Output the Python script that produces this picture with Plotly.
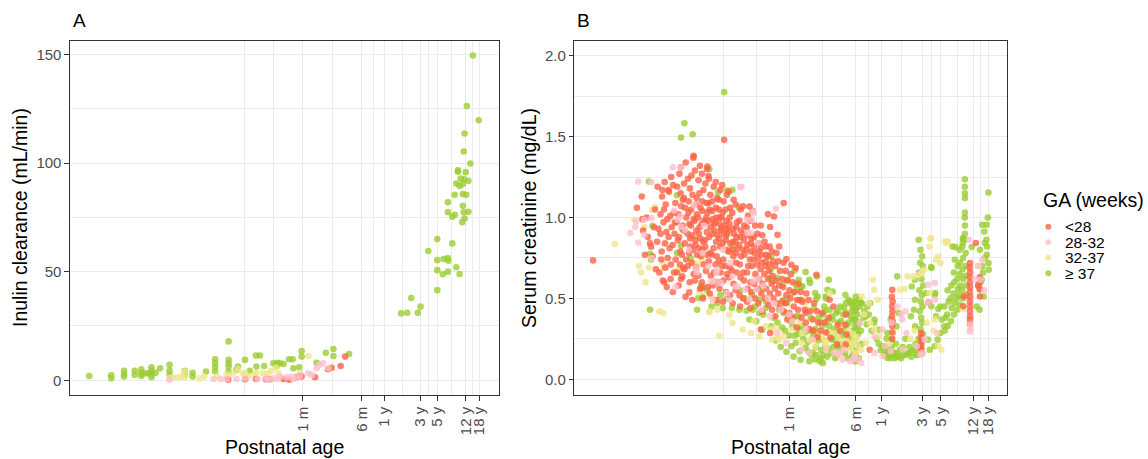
import plotly.graph_objects as go

# ---------------- data (age in days, value) ----------------
# Panel A: inulin clearance (mL/min)
a_lt28 = [(3.1,0.2),(5.2,0.5),(7.25,0.6),(9.8,0.5),(11.1,0.5),(16.8,0.6),(20,0.3),(25.1,1.4),(27.8,2.0),
          (29.2,1.7),(43.9,1.4),(65,5.1),(73,5.8),(96,6.6),(110,10.9)]
a_28_32 = [(0.52,0.2),(2.0,0.6),(2.5,0.6),(3.0,0.6),(4.0,0.6),(5.2,0.9),(7.6,0.6),(9.8,0.9),(10.5,0.3),
           (12.3,0.9),(14,0.6),(15.1,1.7),(18.5,1.4),(21.6,1.7),(22.7,0.5),(25,1.0),(27.8,2.0),(35.8,3.2),
           (39.7,2.5),(46,5.5),(50,7.0),(56,7.8),(66,5.5)]
a_32_37 = [(0.52,0.9),(0.575,1.2),(0.67,1.4),(0.76,1.7),(0.83,4.0),(0.83,1.4),(1.3,0.9),(1.5,1.7),(2.2,1.7),
           (2.96,2.5),(3.2,1.7),(3.6,3.2),(4.2,5.1),(4.87,3.2),(5.2,3.2),(5.8,1.7),(7.0,2.9),(7.3,3.5),(9.0,3.2),
           (10.5,3.2),(11.5,4.4),(13.4,5.8),(14.3,3.2),(27.8,3.2),(35.8,11.2)]
a_ge37 = [(0.045,2.0),(0.088,2.3),(0.088,0.9),(0.13,4.4),(0.13,2.9),(0.13,1.7),(0.18,4.4),(0.18,2.5),
          (0.22,5.1),(0.22,3.5),(0.22,2.0),(0.23,2.9),(0.26,3.2),(0.28,3.2),(0.30,6.0),(0.30,4.4),(0.30,2.9),
          (0.30,1.4),(0.34,3.5),(0.39,5.5),(0.52,7.1),(0.52,4.4),(0.52,2.5),(0.83,4.4),(0.83,2.5),(1.05,3.5),
          (1.05,1.7),(1.58,4.0),(2.09,9.7),(2.09,7.8),(2.09,6.0),(2.09,4.0),(3.15,17.9),(3.15,9.4),(3.15,7.8),
          (3.15,6.3),(3.15,4.0),(4.0,4.8),(4.2,6.3),(5.2,9.4),(6.0,4.4),(7.25,11.4),(8.2,11.4),(7.35,6.3),
          (9.3,6.6),(12.3,7.8),(13.6,6.6),(14,8.1),(15.1,7.8),(16.8,7.5),(19.9,9.7),(22.2,9.7),(22.7,5.5),
          (27.1,6.0),(29.2,13.5),(29.2,10.9),(46,8.1),(61,12.7),(77,14.4),(77,11.2),(124,12.1),
          (5406,149.5),(4493,126.2),(6465,119.7),(4200,113.6),(4091,105.3),(5004,99.8),(3426,96.7),
          (4346,95.8),(3426,96.0),(3726,92.9),(4127,92.5),(4712,91.8),(3262,90.6),(3609,89.4),(3981,90.3),
          (3097,85.4),(3981,85.7),(4420,85.4),(2524,81.9),(3981,80.3),(2524,77.4),(3123,76.2),(2885,75.3),
          (4712,77.6),(4091,77.4),(4200,74.5),(3908,72.8),(1826,65.0),(2885,63.0),(1388,59.5),(1826,55.3),
          (2213,55.8),(2524,56.3),(2553,55.0),(1826,50.7),(2166,48.8),(2524,50.0),(3262,52.0),(3609,48.9),
          (1826,41.5),(825,37.9),(606,30.8),(730,31.1),(1008,31.1),(1096,33.9)]

# Panel B: serum creatinine (mg/dL)
b_lt28 = [(0.15,0.735),(0.49,1.06),(0.56,1.13),(0.61,0.77),(0.70,0.84),(0.57,0.99),(0.58,0.92),(0.78,0.94),
          (0.93,0.90),(0.98,1.17),(0.72,0.82),(0.75,0.76),(1.03,0.60),(1.68,0.636),(2.02,0.537),(2.86,0.564),
          (2.28,1.381),(3.3,1.315),(3.4,1.257),(5.2,1.48),(0.64,1.0),(0.66,0.88),(0.80,1.05),(0.82,0.68),
          (0.86,1.19),(0.93,1.02),(0.88,0.93),(0.95,0.74),(0.90,0.66),(0.85,0.85),
          (1.04,1.22),(0.97,1.13),(1.01,0.97),(0.96,0.79),(1.05,0.84),(0.99,0.61),(1.02,1.05),
          (1.07,1.08),(1.15,1.17),(1.09,0.91),(1.13,0.75),(1.06,0.69),(1.12,0.99),(1.1,0.57),
          (1.24,1.25),(1.17,1.16),(1.21,1.01),(1.26,0.94),(1.19,0.81),(1.23,0.71),(1.16,0.88),(1.22,0.62),
          (1.31,1.2),(1.39,1.09),(1.33,1.03),(1.36,0.9),(1.29,0.83),(1.4,0.74),(1.34,0.66),(1.37,0.97),(1.3,0.54),
          (1.55,1.27),(1.46,1.19),(1.51,1.02),(1.44,0.97),(1.53,0.88),(1.49,0.86),(1.57,0.71),(1.45,0.66),(1.52,0.58),
          (1.61,1.31),(1.7,1.11),(1.63,1.07),(1.68,0.93),(1.59,0.79),(1.66,0.77),(1.72,0.69),(1.62,0.62),
          (1.69,0.95),(1.6,1.15),
          (1.84,1.34),(1.76,1.21),(1.81,1.06),(1.87,1.0),(1.74,0.92),(1.79,0.84),(1.86,0.74),(1.77,0.68),
          (1.83,0.51),(1.75,1.12),
          (1.96,1.24),(2.06,1.18),(1.99,1.1),(2.03,0.96),(1.93,0.9),(2.08,0.82),(2.01,0.78),(1.95,0.7),
          (2.05,0.6),(1.98,1.03),(2.07,0.87),
          (2.26,1.37),(2.15,1.26),(2.21,1.14),(2.13,1.05),(2.28,0.99),(2.18,0.89),(2.24,0.8),(2.16,0.72),
          (2.29,0.65),(2.2,0.49),(2.12,0.95),
          (2.36,1.29),(2.47,1.12),(2.41,1.08),(2.34,0.98),(2.45,0.92),(2.38,0.86),(2.5,0.77),(2.43,0.69),
          (2.35,0.61),(2.48,1.02),(2.4,0.83),
          (2.7,1.32),(2.6,1.23),(2.66,1.15),(2.74,1.06),(2.57,1.0),(2.68,0.94),(2.63,0.81),(2.76,0.76),
          (2.59,0.64),(2.71,0.56),(2.62,0.9),(2.73,0.87),
          (2.85,1.27),(2.97,1.17),(2.88,1.04),(3.0,0.98),(2.83,0.96),(2.94,0.85),(2.9,0.8),(2.98,0.71),
          (2.84,0.6),(2.92,0.5),(2.87,1.1),
          (3.27,1.3),(3.13,1.21),(3.22,1.09),(3.31,1.03),(3.15,0.97),(3.25,0.91),(3.1,0.86),(3.29,0.77),
          (3.18,0.67),(3.33,0.57),(3.21,1.0),(3.12,0.82),
          (3.45,1.24),(3.58,1.14),(3.5,1.05),(3.41,0.98),(3.6,0.94),(3.47,0.88),(3.55,0.78),(3.43,0.73),
          (3.62,0.64),(3.52,0.53),(3.4,1.09),
          (3.92,1.19),(3.78,1.1),(3.86,0.99),(3.96,0.96),(3.8,0.9),(3.9,0.81),(3.75,0.77),(3.94,0.66),
          (3.83,0.58),(3.98,0.92),(3.77,1.04),
          (4.14,1.22),(4.3,1.12),(4.21,1.0),(4.1,0.97),(4.33,0.89),(4.18,0.85),(4.27,0.76),(4.12,0.71),
          (4.36,0.6),(4.24,0.49),(4.15,1.06),
          (4.68,1.17),(4.52,1.05),(4.6,1.0),(4.72,0.92),(4.55,0.87),(4.66,0.82),(4.5,0.73),(4.7,0.66),
          (4.58,0.56),(4.63,0.96),(4.49,1.11),
          (4.92,1.2),(5.12,1.1),(5.0,1.03),(4.88,0.94),(5.15,0.9),(4.97,0.84),(5.08,0.74),(4.9,0.7),
          (5.1,0.61),(5.03,0.48),(4.86,1.0),
          (5.6,1.14),(5.4,1.05),(5.52,0.98),(5.65,0.9),(5.42,0.86),(5.57,0.8),(5.38,0.7),(5.62,0.65),
          (5.47,0.54),(5.55,0.93),(5.36,0.95),
          (5.91,1.16),(6.12,1.06),(6.0,0.96),(5.87,0.92),(6.15,0.84),(5.97,0.79),(6.08,0.69),(5.9,0.63),
          (6.1,0.52),(6.04,1.0),
          (6.72,1.11),(6.48,1.03),(6.62,0.93),(6.76,0.9),(6.5,0.8),(6.66,0.76),(6.45,0.67),(6.7,0.59),
          (6.56,0.47),(6.6,0.85),
          (7.1,1.08),(7.35,0.97),(7.22,0.94),(7.05,0.85),(7.4,0.81),(7.18,0.72),(7.3,0.66),(7.08,0.55),
          (7.26,0.88),(7.15,0.78),
          (8.15,1.05),(7.85,0.98),(8.05,0.88),(7.8,0.83),(8.2,0.76),(7.95,0.71),(8.1,0.63),(7.88,0.52),
          (8.0,0.45),(8.12,0.92),
          (8.65,1.07),(8.95,0.95),(8.8,0.9),(8.6,0.8),(9.0,0.77),(8.72,0.66),(8.9,0.61),(8.68,0.5),(8.85,0.86),
          (9.9,1.01),(9.55,0.94),(9.75,0.83),(9.5,0.8),(9.95,0.7),(9.62,0.66),(9.85,0.56),(9.68,0.48),(9.8,0.89),
          (10.5,0.98),(10.9,0.87),(10.7,0.84),(10.45,0.74),(11.0,0.7),(10.6,0.6),(10.85,0.54),(10.55,0.44),
          (10.75,0.79),
          (12.0,0.95),(11.6,0.88),(11.85,0.78),(11.55,0.74),(12.1,0.65),(11.7,0.59),(11.95,0.5),(11.65,0.82),
          (12.75,0.9),(13.25,0.84),(13.0,0.75),(12.7,0.71),(13.35,0.62),(12.85,0.56),(13.1,0.47),(13.2,0.79),
          (14.6,0.89),(14.05,0.81),(14.35,0.72),(14.0,0.68),(14.7,0.59),(14.2,0.53),(14.5,0.42),(14.25,0.77),
          (15.5,0.85),(16.1,0.77),(15.85,0.7),(15.45,0.65),(16.2,0.56),(15.65,0.5),(15.95,0.73),
          (17.8,0.82),(17.1,0.76),(17.45,0.67),(17.0,0.62),(17.9,0.53),(17.25,0.46),(17.6,0.71),
          (18.9,0.79),(19.6,0.73),(19.25,0.64),(18.8,0.59),(19.7,0.5),(19.05,0.43),
          (21.4,0.78),(20.6,0.7),(21.05,0.61),(20.5,0.56),(21.5,0.47),(20.75,0.39),
          (22.6,0.73),(23.5,0.67),(23.05,0.58),(22.5,0.53),(23.6,0.44),
          (26.0,0.72),(25.0,0.62),(25.6,0.57),(24.9,0.48),(26.1,0.42),
          (27.4,0.67),(28.6,0.61),(28.0,0.52),(27.3,0.47),(28.7,0.37),
          (31.6,0.65),(30.4,0.55),(31.1,0.5),(30.3,0.41),(33.3,0.6),(34.8,0.54),(34.1,0.45),(33.2,0.38),
          (38.8,0.59),(37.2,0.49),(38.3,0.43),(37.1,0.32),(41.2,0.54),(43.0,0.48),(42.1,0.38),
          (48.0,0.53),(46.0,0.43),(47.3,0.35),(51.0,0.49),(53.2,0.42),(52.1,0.31),(59.2,0.47),(56.9,0.37),
          (58.2,0.3),(63.8,0.42),(66.3,0.35),(65.1,0.26),(73.5,0.41),(70.6,0.3),(78.5,0.35),(81.6,0.29),
          (26,1.089),(17,1.021),(20,1.006),(14,0.951),(18,0.941),(22,0.893),(10.3,1.068),(11.2,1.041),
          (23,0.821),(28,0.743),(63,0.646),(16,0.821),(32,0.708),(36,0.688),(40,0.49),(47,0.41),(18,0.286),
          (14,0.307),(90,0.492),(88,0.38),(92,0.257),(112,0.337),(110,0.214),(140,0.40),(137,0.337),
          (143,0.276),(139,0.214),(100,0.45),(120,0.30),
          (490,0.553),(485,0.51),(495,0.48),(488,0.45),(492,0.42),(486,0.39),(494,0.36),(489,0.33),(491,0.29),
          (487,0.25),(266,0.183),(1070,0.286),(1060,0.26),(1080,0.235),(1065,0.21),(1075,0.19),(1068,0.173),
          (1300,0.475),(4000,0.718),(3980,0.69),(4020,0.66),(3990,0.63),(4010,0.60),(4000,0.57),(3985,0.54),
          (4015,0.51),(3995,0.48),(4005,0.45),(3990,0.42),(4010,0.39),(4000,0.37),(3995,0.34),
          (4700,0.842),(5240,0.512),(5200,0.56),(5280,0.60),(5220,0.63),(5000,0.58),(3400,0.512),(3350,0.451)]
b_28_32 = [(0.41,0.904),(0.47,0.941),(0.51,1.222),(0.60,0.986),(0.60,0.893),(0.73,1.218),(0.73,0.996),
           (0.51,0.846),(0.73,0.749),(0.48,0.975),(1.3,1.311),(1.62,1.311),(1.35,1.043),(1.47,0.986),
           (1.62,0.944),(2.32,1.078),(1.4,0.568),(3.7,0.605),(2.4,0.688),(2.5,0.66),(1.6,1.006),(1.8,0.924),
           (2.0,0.80),(2.9,0.78),(3.4,0.698),(4.3,0.677),(4.8,0.595),(5.6,0.533),(7.5,0.574),(9.2,0.553),
           (11,0.986),(11.6,1.027),(8.3,1.19),(9.8,0.904),(12.9,0.842),(8.0,1.188),(11.2,1.037),(21,1.054),
           (9.6,0.986),(10.7,0.904),(4.2,0.657),(4.1,0.605),(3.8,0.492),(6.5,0.636),(7.1,0.574),(6.0,0.492),
           (11.3,0.605),(12.5,0.554),(10.3,0.492),(13,0.62),(15,0.58),(17,0.50),(20,0.47),(24,0.43),(30,0.40),
           (33,0.36),(5.0,0.80),(6.1,0.72),(3.0,0.95),
           (14.2,0.43),(18,0.389),(22,0.286),(27.8,0.225),(42,0.183),(52,0.163),(47,0.307),(57,0.245),(82,0.183),
           (102,0.163),(113,0.152),(133,0.183),(176,0.142),(128,0.122),(157,0.111),(193,0.122),(212,0.101),
           (203,0.348),(120,0.163),(170,0.122),(303,0.163),(377,0.142),(470,0.173),(650,0.183),(720,0.286),
           (950,0.204),(1090,0.163),(1180,0.245),(1050,0.152),(1550,0.595),(1560,0.492),(1640,0.286),
           (1300,0.585),(1280,0.472),(303,0.265),(376,0.307),(400,0.204),(560,0.45),(620,0.40),(640,0.37),
           (700,0.42),(480,0.35),(3900,0.862),(4000,0.338),(4000,0.296),(4050,0.31),(5600,0.739),(5300,0.615),
           (5000,0.70),(4600,0.62),(5900,0.55)]
b_32_37 = [(0.27,0.836),(0.46,0.986),(0.60,0.941),(0.74,1.048),(0.80,1.064),(0.52,0.70),(0.55,0.66),
           (0.62,0.60),(0.90,0.42),(1.0,0.41),(2.32,0.883),(1.0,0.712),(1.02,0.691),(0.68,0.691),(1.5,0.677),
           (1.52,0.667),(2.3,0.719),(2.5,0.708),(2.66,0.537),(3.7,0.512),(3.48,0.414),(2.25,0.883),(2.86,0.739),
           (3.5,0.42),(4.3,0.43),(4.57,0.27),(6.0,0.40),(6.5,0.348),(8.6,0.307),(10.7,0.286),(11.6,0.358),
           (13.5,0.265),(16,0.327),(18.5,0.307),(21,0.317),(23,0.245),(26,0.265),(19,0.245),(22,0.255),
           (30,0.369),(33,0.307),(40,0.348),(43,0.286),(47,0.472),(52,0.43),(57,0.369),(69,0.286),(79,0.245),
           (82,0.204),(90,0.533),(42,0.225),(52,0.245),(61,0.204),(72,0.265),(81,0.225),(92,0.286),(102,0.286),
           (113,0.255),(128,0.225),(140,0.194),(157,0.225),(176,0.245),(193,0.204),(212,0.183),(240,0.225),
           (140,0.245),(160,0.183),(177,0.214),(182,0.163),(150,0.30),(170,0.28),(185,0.26),(120,0.32),
           (290,0.615),(300,0.553),(330,0.492),(270,0.348),(303,0.307),(340,0.265),(215,0.512),(260,0.47),
           (230,0.40),(740,0.636),(870,0.636),(1000,0.646),(1090,0.657),(1160,0.677),(600,0.553),(680,0.56),
           (1340,0.821),(1400,0.873),(1600,0.739),(1700,0.759),(1800,0.718),(2100,0.842),(2200,0.852),
           (1380,0.869),(2030,0.852),(1340,0.533),(1550,0.369),(1700,0.204),(1850,0.183),(3300,0.434),
           (5000,0.70),(1500,0.30),(1250,0.35),(900,0.30),(800,0.25),(500,0.28),(450,0.22)]
b_ge37 = [(1.77,1.583),(1.62,1.494),(2.22,1.515),(3.48,1.30),(0.68,1.222),(1.45,1.138),(0.75,0.949),
          (0.70,0.776),(0.72,0.74),(1.62,0.825),(1.45,0.78),(2.1,0.749),(2.8,0.578),(2.6,0.502),(2.5,0.43),
          (5.2,1.775),(5.6,1.167),(4.4,1.154),(6.5,1.171),(7.7,1.064),(5.5,0.883),(6.5,0.827),(4.8,0.928),
          (5.8,0.79),(2.86,0.574),(2.9,0.512),(5.6,0.498),(0.70,0.43),
          (3.7,0.45),(4.3,0.47),(5.0,0.44),(6.4,0.44),(7.85,0.43),(9.5,0.424),(11.2,0.43),(13.5,0.41),(16,0.44),
          (10.3,0.369),(12.4,0.358),(14.6,0.307),(18.5,0.327),(23,0.43),(27,0.472),(29.5,0.389),(36,0.389),
          (40,0.307),(26,0.492),(28.5,0.472),(13.6,0.492),(16.2,0.481),(18.5,0.759),(18.4,0.681),(18,0.626),
          (19,0.605),(35,0.673),(39,0.615),(47,0.663),(52,0.615),(88,0.615),(98,0.543),(65,0.512),(63,0.496),
          (43,0.574),(36,0.585),(15,0.40),(12,0.45),(9,0.50),(8,0.55),(11,0.52),(14,0.55),(4.0,0.60),(4.7,0.52),
          (3.3,0.55),
          (32,0.204),(36,0.225),(40,0.173),(47,0.194),(55,0.152),(60,0.122),(69,0.111),(57,0.163),(52,0.111),
          (75,0.101),(20,0.38),(22,0.35),(25,0.32),(27,0.30),(30,0.27),(33,0.33),(38,0.28),(44,0.25),(50,0.23),
          (53,0.30),(58,0.27),(62,0.20),(66,0.24),(72,0.18),(76,0.15),(80,0.20),(84,0.14),(70,0.35),(75,0.40),
          (78,0.45),(82,0.50),(22,0.628),(25,0.584),(29,0.615),(37,0.553),(33,0.533),(42,0.492),(42,0.574),
          (61,0.533),(64,0.636),(53,0.595),(85,0.553),(81,0.512),(90,0.43),(108,0.41),(98,0.369),(86,0.286),
          (95,0.245),(103,0.265),(118,0.214),(110,0.30),(115,0.35),(120,0.45),(125,0.27),(130,0.40),(135,0.30),
          (145,0.25),(150,0.35),(165,0.42),(170,0.30),(175,0.26),(185,0.44),(190,0.40),(195,0.28),(200,0.35),
          (205,0.45),(210,0.30),(215,0.22),(140,0.472),(155,0.481),(167,0.451),(182,0.475),(141,0.41),
          (160,0.389),(181,0.369),(177,0.327),(138,0.523),(150,0.492),(157,0.472),(176,0.481),(183,0.512),
          (200,0.492),(212,0.472),(182,0.42),(180,0.36),(184,0.30),(181,0.25),(183,0.20),(182,0.15),(180,0.11),
          (175,0.18),(165,0.14),(150,0.20),(130,0.17),(110,0.15),(100,0.20),
          (21,0.24),(24,0.20),(26,0.41),(28,0.17),(31,0.36),(34,0.14),(35,0.27),(39,0.39),(41,0.12),(43,0.33),
          (46,0.29),(48,0.42),(51,0.17),(54,0.38),(56,0.25),(59,0.44),(61,0.31),(63,0.15),(67,0.38),(68,0.28),
          (71,0.13),(74,0.33),(77,0.24),(79,0.42),(83,0.36),(87,0.19),(89,0.33),(93,0.16),(96,0.39),(101,0.31),
          (105,0.13),(107,0.24),(112,0.42),(117,0.19),(123,0.36),(128,0.22),(133,0.44),(137,0.16),(143,0.33),
          (148,0.13),(154,0.28),(162,0.24),(168,0.37),(172,0.16),(178,0.44),(188,0.21),(193,0.33),(198,0.13),
          (270,0.472),(303,0.369),(340,0.307),(240,0.389),(376,0.204),(415,0.17),(460,0.15),(510,0.16),
          (570,0.14),(630,0.17),(700,0.15),(775,0.16),(860,0.18),(955,0.15),(215,0.47),(230,0.42),(225,0.38),
          (250,0.45),(260,0.40),(245,0.34),(280,0.30),(300,0.35),(320,0.25),(340,0.22),(360,0.18),(380,0.20),
          (400,0.15),(420,0.25),(440,0.17),(460,0.13),(480,0.20),(500,0.15),(520,0.13),(540,0.22),(560,0.14),
          (600,0.18),(620,0.13),(650,0.20),(680,0.15),(700,0.25),(740,0.16),(780,0.20),(820,0.14),(880,0.18),
          (920,0.22),(960,0.15),(1000,0.20),(560,0.636),(580,0.41),(470,0.369),(550,0.327),(430,0.286),
          (485,0.245),(405,0.204),(524,0.163),(430,0.132),(900,0.615),(830,0.574),(905,0.492),(880,0.43),
          (810,0.389),(910,0.327),
          (1000,0.862),(1050,0.80),(1100,0.76),(1040,0.72),(1120,0.70),(1010,0.66),(1080,0.62),(1130,0.58),
          (1020,0.55),(1090,0.52),(1060,0.48),(1110,0.45),(1030,0.42),(1070,0.38),(1100,0.35),(1050,0.31),
          (1120,0.28),(1000,0.25),(1080,0.22),(1040,0.19),(1100,0.16),
          (1550,0.523),(1400,0.694),(1410,0.451),(1700,0.434),(1600,0.389),(1870,0.369),(2000,0.327),
          (1800,0.286),(1670,0.245),(1550,0.204),(1350,0.183),(1280,0.245),(1230,0.533),(1420,0.688),
          (1570,0.533),(1800,0.45),(2030,0.30),(2060,0.38),(2000,0.45),(2200,0.33),(2160,0.40),(2240,0.48),
          (2190,0.55),(2400,0.36),(2440,0.44),(2370,0.50),(2420,0.58),(2600,0.40),(2640,0.47),(2570,0.53),
          (2620,0.60),(2590,0.66),(2850,0.43),(2800,0.50),(2880,0.56),(2830,0.62),(2870,0.70),(3050,0.46),
          (3000,0.52),(3090,0.58),(3030,0.65),(3070,0.72),(3020,0.80),(3300,0.50),(3250,0.55),(3340,0.62),
          (3280,0.68),(3320,0.75),(3260,0.82),(3310,0.87),(3580,0.52),(3620,0.58),(3560,0.64),(3600,0.70),
          (3570,0.78),(3490,0.90),(3500,0.95),(3480,1.00),(3490,1.03),(3500,1.12),(3490,1.15),(3480,1.19),
          (3490,1.237),(2500,0.821),(2660,0.739),(3300,0.842),(2700,0.817),(4200,0.817),(3350,0.873),
          (3490,0.862),
          (6600,1.154),(6500,1.0),(5600,0.955),(6300,0.955),(5900,0.914),(6250,0.862),(6350,0.821),(6300,0.77),
          (6600,0.718),(5600,0.698),(6650,0.677),(5240,0.80),(6000,0.842),(5500,0.615),(5260,0.553),
          (5800,0.512),(5000,0.585),(4800,0.45),(5200,0.43),(6000,0.75),(5700,0.66)]

group_labels = ["<28", "28-32", "32-37", "\u2265 37"]
group_colors = ["#FF6347", "#FFC0CB", "#F0E68C", "#9ACD32"]

tick_days = [30.4375, 182.625, 365.25, 1095.75, 1826.25, 4383.0, 6574.5]
tick_text = ["1 m", "6 m", "1 y", "3 y", "5 y", "12 y", "18 y"]
a_yticks = [0, 50, 100, 150]
b_yticks = [0.0, 0.5, 1.0, 1.5, 2.0]

# ---------------- figure ----------------
W, H = 1148, 459
FONT = "Liberation Sans, Arial, Helvetica, sans-serif"


def fx(p):
    return p / W


def fy(p):
    return 1 - p / H


# minor gridlines as ggplot: midpoints in log space, plus one extended break below
minor_x = [tick_days[0] / (tick_days[1] / tick_days[0])]
ext = [minor_x[0]] + tick_days
for lo, hi in zip(ext[:-1], ext[1:]):
    minor_x.append((lo * hi) ** 0.5)

fig = go.Figure()

a_series = [a_lt28, a_28_32, a_32_37, a_ge37]
b_series = [b_lt28, b_28_32, b_32_37, b_ge37]
draw_order = [3, 2, 0, 1]
for i in draw_order:
    for series, xa, ya in ((a_series[i], "x", "y"), (b_series[i], "x2", "y2")):
        xs = [p[0] for p in series]
        ys = [p[1] for p in series]
        fig.add_trace(go.Scatter(
            x=xs, y=ys, mode="markers", xaxis=xa, yaxis=ya, showlegend=False,
            name=group_labels[i],
            marker=dict(size=6.6, color=group_colors[i], opacity=0.8, line=dict(width=0)),
        ))

axis_common = dict(
    showline=True, mirror=True, linecolor="#333333", linewidth=1.1,
    ticks="outside", ticklen=4.5, tickwidth=1.1, tickcolor="#333333",
    showgrid=True, gridcolor="#EBEBEB", gridwidth=1.4, zeroline=False,
    tickfont=dict(family=FONT, size=15, color="#4D4D4D"),
)

xaxis_common = dict(axis_common, type="log", tickmode="array", tickvals=tick_days, ticktext=tick_text,
                    tickangle=-90,
                    minor=dict(tickmode="array", tickvals=minor_x, showgrid=True, gridcolor="#EBEBEB",
                               gridwidth=0.7, ticks=""))

fig.update_layout(
    width=W, height=H, autosize=False,
    margin=dict(l=0, r=0, t=0, b=0, pad=0),
    paper_bgcolor="white", plot_bgcolor="white",
    showlegend=False,
    xaxis=dict(xaxis_common, domain=[fx(70), fx(499)], range=[-1.602, 4.079], anchor="y"),
    yaxis=dict(axis_common, domain=[fy(395.3), fy(40.7)], range=[-6.9, 156.3], anchor="x",
               tickmode="array", tickvals=a_yticks, ticktext=[str(v) for v in a_yticks],
               minor=dict(tickmode="array", tickvals=[25, 75, 125], showgrid=True, gridcolor="#EBEBEB",
                          gridwidth=0.7, ticks="")),
    xaxis2=dict(xaxis_common, domain=[fx(574.3), fx(1006.7)], range=[-1.044, 4.034], anchor="y2"),
    yaxis2=dict(axis_common, domain=[fy(395.3), fy(40.7)], range=[-0.099, 2.093], anchor="x2",
                tickmode="array", tickvals=b_yticks, ticktext=["%.1f" % v for v in b_yticks],
                minor=dict(tickmode="array", tickvals=[0.25, 0.75, 1.25, 1.75], showgrid=True,
                           gridcolor="#EBEBEB", gridwidth=0.7, ticks="")),
)

ann = []


def text(x, y, s, size, xanchor="left", angle=0, color="black"):
    ann.append(dict(x=fx(x), y=fy(y), xref="paper", yref="paper", text=s, showarrow=False,
                    xanchor=xanchor, yanchor="middle", textangle=angle,
                    font=dict(family=FONT, size=size, color=color)))


text(71, 20, "A", 19)
text(575, 20, "B", 19)
text(284.5, 447, "Postnatal age", 19.5, xanchor="center")
text(790.5, 447, "Postnatal age", 19.5, xanchor="center")
text(20, 218, "Inulin clearance (mL/min)", 19.5, xanchor="center", angle=-90)
text(529, 218, "Serum creatinine (mg/dL)", 19.5, xanchor="center", angle=-90)
text(1041, 200, "GA (weeks)", 19.5)

legend_y = [226.7, 242.3, 257.7, 273.3]
shapes = []
for lab, col, yy in zip(group_labels, group_colors, legend_y):
    text(1063, yy, lab, 15.5)
    shapes.append(dict(type="circle", xref="paper", yref="paper", xsizemode="pixel", ysizemode="pixel",
                       xanchor=fx(1048.3), yanchor=fy(yy), x0=-3, x1=3, y0=-3, y1=3,
                       fillcolor=col, opacity=0.8, line=dict(width=0)))

fig.update_layout(annotations=ann, shapes=shapes)
fig.write_html("out.html", config={"displayModeBar": False},
               post_script="document.body.style.margin='0px';document.body.style.overflow='hidden';")
